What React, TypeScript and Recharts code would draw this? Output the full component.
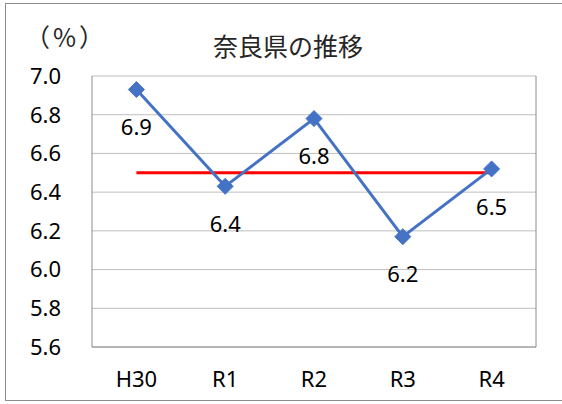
import { LineChart, Line, XAxis, YAxis, CartesianGrid, LabelList } from 'recharts';

const years = ['H30', 'R1', 'R2', 'R3', 'R4'];
const naraRates = [6.93, 6.43, 6.78, 6.17, 6.52];
const referenceRates = [6.5, 6.5, 6.5, 6.5, 6.5];
const yTicks = [5.6, 5.8, 6.0, 6.2, 6.4, 6.6, 6.8, 7.0];

const data = years.map((y, i) => ({ year: y, nara: naraRates[i], ref: referenceRates[i] }));

const FONT = '"Noto Sans", "Noto Sans CJK JP", sans-serif';
const CJK = '"Noto Sans CJK JP", sans-serif';

const Diamond = (props: any) => {
  const { cx, cy } = props;
  if (cx == null || cy == null) return null;
  const r = 8;
  return (
    <path
      d={`M${cx},${cy - r} L${cx + r},${cy} L${cx},${cy + r} L${cx - r},${cy} Z`}
      fill="#4472C4"
      stroke="#4472C4"
    />
  );
};

export default function App() {
  return (
    <div style={{ position: 'absolute', left: 0, top: 0, width: 562, height: 404, background: '#fff', fontFamily: FONT }}>
      {/* outer chart frame */}
      <div style={{ position: 'absolute', left: 5, top: 3, width: 560, height: 398, border: '1px solid #8c8c8c', boxSizing: 'border-box' }} />
      <div style={{ position: 'absolute', left: 25, top: 20, fontSize: 25, fontFamily: CJK, color: '#262626', lineHeight: '32px', letterSpacing: 3 }}>（%）</div>
      <div style={{ position: 'absolute', left: 0, width: 576, top: 29, textAlign: 'center', fontSize: 25, fontFamily: CJK, color: '#262626', lineHeight: '32px' }}>奈良県の推移</div>
      <LineChart width={562} height={404} data={data} margin={{ top: 76, right: 0, bottom: 0, left: 0 }} style={{ position: 'absolute', left: 0, top: 0 }}>
        <CartesianGrid vertical={false} stroke="#bfbfbf" strokeWidth={1} />
        <XAxis
          dataKey="year"
          scale="band"
          height={57}
          tickLine={false}
          tickSize={0}
          tickMargin={24}
          axisLine={{ stroke: '#8c8c8c' }}
          tick={{ fill: '#000', fontSize: 22, fontFamily: FONT }}
        />
        <YAxis
          width={92}
          domain={[5.6, 7.0]}
          ticks={yTicks}
          interval={0}
          tickLine={false}
          tickSize={0}
          tickMargin={31}
          axisLine={{ stroke: '#8c8c8c' }}
          tickFormatter={(v: number) => v.toFixed(1)}
          tick={{ fill: '#000', fontSize: 22, fontFamily: FONT }}
        />
        <YAxis
          yAxisId="frame"
          orientation="right"
          width={26}
          domain={[5.6, 7.0]}
          tick={false}
          tickLine={false}
          axisLine={{ stroke: '#8c8c8c' }}
        />
        <Line
          dataKey="ref"
          stroke="#FF0000"
          strokeWidth={3}
          dot={false}
          activeDot={false}
          isAnimationActive={false}
        />
        <Line
          dataKey="nara"
          stroke="#4472C4"
          strokeWidth={3}
          dot={<Diamond />}
          activeDot={false}
          isAnimationActive={false}
        >
          <LabelList
            dataKey="nara"
            position="bottom"
            offset={30}
            formatter={(v: any) => Number(v).toFixed(1)}
            style={{ fill: '#000', fontSize: 22, fontFamily: FONT }}
          />
        </Line>
      </LineChart>
    </div>
  );
}
